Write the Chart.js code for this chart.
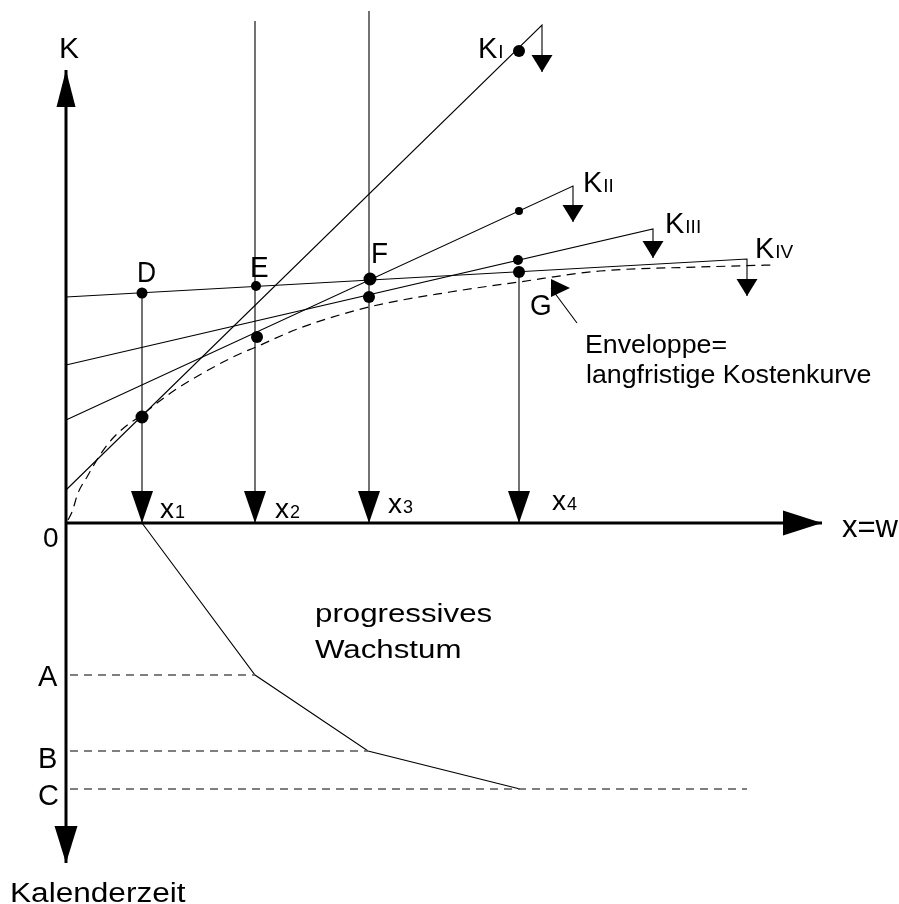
<!DOCTYPE html>
<html lang="de">
<head>
    <meta charset="UTF-8">
    <title>Enveloppe - langfristige Kostenkurve</title>
    <script src="https://cdn.jsdelivr.net/npm/chart.js"></script>
    <style>
        body { margin: 0; background: #fff; }
    </style>
</head>
<body>
<canvas id="kostenChart" width="899" height="904"></canvas>

<script>
    // all values in diagram units, origin = where the axes cross (x = Menge, y = Kosten, negative y = Kalenderzeit)
    var xAxis = [[0, 0], [756, 0]];
    var kAxis = [[0, 0], [0, 453]];
    var zeitAxis = [[0, 0], [0, -340]];

    // short-run cost curves K I .. K IV (start, end, drop to arrow)
    var kI = [[0, 33], [476, 498], [476, 451]];
    var kII = [[0, 103], [507, 337], [507, 301]];
    var kIII = [[0, 158], [587, 294], [587, 265]];
    var kIV = [[0, 226], [681, 264], [681, 227]];

    // long-run envelope (dashed)
    var envelope = [[2, 3], [6, 11], [12, 30], [21, 46], [34, 68], [47, 85], [64, 100], [76, 108],
        [91, 120], [112, 135], [167, 166], [190, 176], [234, 195], [303, 216], [384, 231],
        [453, 241], [534, 252], [634, 256], [706, 258]];

    // output levels x1..x4 and where their drop lines start
    var xLevels = [76, 189, 303, 453];
    var xTops = [230, 502, 512, 251];

    // calendar time path below the x axis
    var zeitPath = [[76, 0], [189, -152], [302, -228], [454, -266]];
    var zeitMarks = [-152, -228, -266];
    var zeitMarkEnds = [189, 302, 681];

    // marked points and their radius
    var dots = [[76, 230], [190, 237], [304, 244], [303, 226], [191, 186], [76, 106],
        [453, 312], [452, 263], [453, 251], [453, 472]];
    var dotSizes = [5.5, 5, 6.5, 6, 6, 6.5, 4, 5, 6, 6];

    var pointer = [[511, 200], [485, 235]];

    var font = '"Liberation Sans", Arial, sans-serif';

    // text: [text, subscript, x, y, size, horizontal stretch]
    var labels = [
        ['K', '', -7, 465, 30, 1],
        ['0', '', -23, -24, 28, 1],
        ['x=w', '', 776, -14, 31, 1],
        ['x', '1', 94, 5, 28, 1],
        ['x', '2', 209, 5, 28, 1],
        ['x', '3', 322, 10, 28, 1],
        ['x', '4', 486, 13, 28, 1],
        ['K', 'I', 412, 465, 29, 1],
        ['K', 'II', 517, 331, 29, 1],
        ['K', 'III', 599, 290, 29, 1],
        ['K', 'IV', 689, 265, 29, 1],
        ['D', '', 71, 241, 30, 0.88],
        ['E', '', 184, 246, 30, 0.93],
        ['F', '', 305, 260, 30, 0.93],
        ['G', '', 464, 208, 30, 0.93],
        ['Enveloppe=', '', 519, 170, 25, 1.07],
        ['langfristige Kostenkurve', '', 520, 140, 25, 1.07],
        ['progressives', '', 249, -99, 25, 1.25],
        ['Wachstum', '', 249, -135, 25, 1.25],
        ['A', '', -28, -163, 29, 1],
        ['B', '', -28, -245, 29, 1],
        ['C', '', -28, -282, 29, 1],
        ['Kalenderzeit', '', -56, -379, 27, 1.17]
    ];

    function toPoints(arr) {
        return arr.map(function (p) { return { x: p[0], y: p[1] }; });
    }

    function lineSet(arr, width, extra) {
        var ds = {
            data: toPoints(arr),
            showLine: true,
            borderColor: '#000',
            borderWidth: width,
            pointRadius: 0,
            fill: false,
            clip: false
        };
        return Object.assign(ds, extra || {});
    }

    var datasets = [];
    datasets.push(lineSet(xAxis, 3, { arrow: { len: 39, w: 25 } }));
    datasets.push(lineSet(kAxis, 3, { arrow: { len: 37, w: 19 } }));
    datasets.push(lineSet(zeitAxis, 3, { arrow: { len: 37, w: 23 } }));

    [kI, kII, kIII, kIV].forEach(function (k) {
        datasets.push(lineSet(k, 1.1, { arrow: { len: 17, w: 21 } }));
    });

    xLevels.forEach(function (x, i) {
        datasets.push(lineSet([[x, xTops[i]], [x, 0]], 1.1, { arrow: { len: 32, w: 22 } }));
    });

    datasets.push(lineSet(envelope, 1.2, { borderDash: [9, 6], cubicInterpolationMode: 'monotone' }));

    zeitMarks.forEach(function (y, i) {
        datasets.push(lineSet([[4, y], [zeitMarkEnds[i], y]], 1.3, { borderColor: '#555', borderDash: [8, 6] }));
    });
    datasets.push(lineSet(zeitPath, 1.1));

    datasets.push(lineSet(pointer, 1.1, { arrow: { len: 19, w: 18, angle: 0 } }));

    datasets.push({
        data: toPoints(dots),
        showLine: false,
        pointRadius: dotSizes,
        pointBackgroundColor: '#000',
        pointBorderWidth: 0,
        clip: false
    });

    // arrow heads at the end of a dataset's line
    var arrowPlugin = {
        id: 'arrows',
        afterDatasetsDraw: function (chart) {
            var ctx = chart.ctx;
            chart.data.datasets.forEach(function (ds, i) {
                if (!ds.arrow) return;
                var pts = chart.getDatasetMeta(i).data;
                var a = pts[pts.length - 2], b = pts[pts.length - 1];
                var dx, dy, tipX, tipY;
                if (ds.arrow.angle !== undefined) {
                    dx = Math.cos(ds.arrow.angle * Math.PI / 180);
                    dy = Math.sin(ds.arrow.angle * Math.PI / 180);
                    tipX = b.x + dx * ds.arrow.len;
                    tipY = b.y + dy * ds.arrow.len;
                } else {
                    var d = Math.hypot(b.x - a.x, b.y - a.y);
                    dx = (b.x - a.x) / d;
                    dy = (b.y - a.y) / d;
                    tipX = b.x;
                    tipY = b.y;
                }
                var bx = tipX - dx * ds.arrow.len, by = tipY - dy * ds.arrow.len;
                var hw = ds.arrow.w / 2;
                ctx.save();
                ctx.fillStyle = '#000';
                ctx.beginPath();
                ctx.moveTo(tipX, tipY);
                ctx.lineTo(bx - dy * hw, by + dx * hw);
                ctx.lineTo(bx + dy * hw, by - dx * hw);
                ctx.closePath();
                ctx.fill();
                ctx.restore();
            });
        }
    };

    var textPlugin = {
        id: 'texts',
        afterDraw: function (chart) {
            var ctx = chart.ctx;
            var xs = chart.scales.x, ys = chart.scales.y;
            labels.forEach(function (l) {
                ctx.save();
                ctx.translate(xs.getPixelForValue(l[2]), ys.getPixelForValue(l[3]));
                ctx.scale(l[5], 1);
                ctx.fillStyle = '#000';
                ctx.textAlign = 'left';
                ctx.textBaseline = 'alphabetic';
                ctx.font = l[4] + 'px ' + font;
                ctx.fillText(l[0], 0, 0);
                if (l[1]) {
                    var w = ctx.measureText(l[0]).width;
                    ctx.font = Math.round(l[4] * 0.65) + 'px ' + font;
                    ctx.fillText(l[1], w + 1, 0);
                }
                ctx.restore();
            });
        }
    };

    new Chart(document.getElementById('kostenChart'), {
        type: 'scatter',
        data: { datasets: datasets },
        options: {
            responsive: false,
            animation: false,
            layout: { padding: 0, autoPadding: false },
            scales: {
                x: { type: 'linear', min: -66, max: 833, display: false },
                y: { type: 'linear', min: -381, max: 523, display: false }
            },
            plugins: {
                legend: { display: false },
                tooltip: { enabled: false }
            }
        },
        plugins: [arrowPlugin, textPlugin]
    });
</script>
</body>
</html>
